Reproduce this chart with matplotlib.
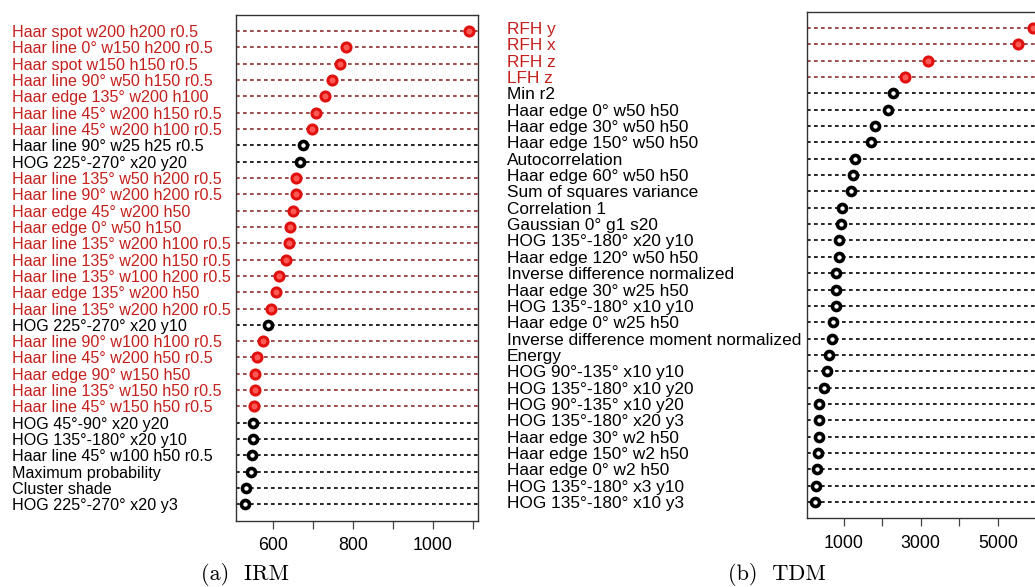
import matplotlib
matplotlib.use("Agg")
import matplotlib.pyplot as plt
from matplotlib.transforms import blended_transform_factory

# ---------------- data (top to bottom) ----------------
irm_labels = [
    "Haar spot w200 h200 r0.5", "Haar line 0° w150 h200 r0.5", "Haar spot w150 h150 r0.5",
    "Haar line 90° w50 h150 r0.5", "Haar edge 135° w200 h100", "Haar line 45° w200 h150 r0.5",
    "Haar line 45° w200 h100 r0.5", "Haar line 90° w25 h25 r0.5", "HOG 225°-270° x20 y20",
    "Haar line 135° w50 h200 r0.5", "Haar line 90° w200 h200 r0.5", "Haar edge 45° w200 h50",
    "Haar edge 0° w50 h150", "Haar line 135° w200 h100 r0.5", "Haar line 135° w200 h150 r0.5",
    "Haar line 135° w100 h200 r0.5", "Haar edge 135° w200 h50", "Haar line 135° w200 h200 r0.5",
    "HOG 225°-270° x20 y10", "Haar line 90° w100 h100 r0.5", "Haar line 45° w200 h50 r0.5",
    "Haar edge 90° w150 h50", "Haar line 135° w150 h50 r0.5", "Haar line 45° w150 h50 r0.5",
    "HOG 45°-90° x20 y20", "HOG 135°-180° x20 y10", "Haar line 45° w100 h50 r0.5",
    "Maximum probability", "Cluster shade", "HOG 225°-270° x20 y3",
]
irm_values = [1091, 784, 769, 748, 731, 707, 697, 676, 668, 659, 658, 651, 644, 640, 633,
              614, 607, 596, 587, 576, 560, 555, 554, 552, 551, 550, 547, 545, 532, 530]
irm_highlight = [1, 1, 1, 1, 1, 1, 1, 0, 0, 1, 1, 1, 1, 1, 1,
                 1, 1, 1, 0, 1, 1, 1, 1, 1, 0, 0, 0, 0, 0, 0]

tdm_labels = [
    "RFH y", "RFH x", "RFH z", "LFH z", "Min r2", "Haar edge 0° w50 h50",
    "Haar edge 30° w50 h50", "Haar edge 150° w50 h50", "Autocorrelation",
    "Haar edge 60° w50 h50", "Sum of squares variance", "Correlation 1",
    "Gaussian 0° g1 s20", "HOG 135°-180° x20 y10", "Haar edge 120° w50 h50",
    "Inverse difference normalized", "Haar edge 30° w25 h50", "HOG 135°-180° x10 y10",
    "Haar edge 0° w25 h50", "Inverse difference moment normalized", "Energy",
    "HOG 90°-135° x10 y10", "HOG 135°-180° x10 y20", "HOG 90°-135° x10 y20",
    "HOG 135°-180° x20 y3", "Haar edge 30° w2 h50", "Haar edge 150° w2 h50",
    "Haar edge 0° w2 h50", "HOG 135°-180° x3 y10", "HOG 135°-180° x10 y3",
]
tdm_values = [5922, 5518, 3202, 2598, 2270, 2150, 1821, 1710, 1303, 1251, 1181, 948,
              932, 881, 870, 811, 803, 793, 733, 707, 622, 560, 492, 363, 360, 352,
              335, 309, 283, 265]
tdm_highlight = [1, 1, 1, 1] + [0] * 26

irm_ticks = [600, 700, 800, 900, 1000, 1100]
irm_ticklabels = ["600", "", "800", "", "1000", ""]
tdm_ticks = [1000, 2000, 3000, 4000, 5000, 6000]
tdm_ticklabels = ["1000", "", "3000", "", "5000", ""]

# ---------------- style ----------------
W, H = 1035, 587
LABEL_RED = "#C4201C"
LINE_RED = "#8E2E2E"
DOT_RED_EDGE = "#E0100E"
DOT_RED_FACE = "#FF5A55"
FONT = ["Liberation Sans", "DejaVu Sans"]

fig = plt.figure(figsize=(W / 100, H / 100), dpi=100)


def panel(rect, labels, values, highlight, ticks, ticklabels, label_x, caption, cap_x, fs):
    ax = fig.add_axes(rect)
    n = len(values)
    vmin, vmax = min(values), max(values)
    pad = 0.04 * (vmax - vmin)
    ax.set_xlim(vmin - pad, vmax + pad)
    ax.set_ylim(0, n + 1)
    trans = blended_transform_factory(fig.transFigure, ax.transData)
    for i, (lab, v, h) in enumerate(zip(labels, values, highlight)):
        y = n - i
        lc = LINE_RED if h else "black"
        ax.axhline(y, color=lc, lw=1.2, ls=(0, (2.2, 2.0)), zorder=1)
        if h:
            ax.plot([v], [y], "o", ms=6.5, mfc=DOT_RED_FACE, mec=DOT_RED_EDGE, mew=2.2, zorder=3)
        else:
            ax.plot([v], [y], "o", ms=5.8, mfc="white", mec="black", mew=2.6, zorder=3)
        ax.text(label_x / W, y, lab, transform=trans, ha="left", va="center_baseline",
                fontsize=fs, family=FONT, color=LABEL_RED if h else "black",
                clip_on=False)
    ax.set_yticks([])
    ax.set_xticks(ticks)
    ax.set_xticklabels(ticklabels, family=FONT, fontsize=12.8)
    ax.tick_params(axis="x", length=6, width=0.9, color="#444444", pad=6)
    for s in ax.spines.values():
        s.set_color("#333333")
        s.set_linewidth(1.0)
    fig.text(cap_x / W, 1 - 575 / H, caption, ha="center", va="center",
             family=["cmr10", "DejaVu Serif"], fontsize=16)
    return ax


panel([236 / W, 1 - 520.7 / H, (478 - 236) / W, (520.7 - 14.7) / H],
      irm_labels, irm_values, irm_highlight, irm_ticks, irm_ticklabels,
      12, "(a)  IRM", 245, 11.6)
panel([806.5 / W, 1 - 518.3 / H, (1042 - 806.5) / W, (518.3 - 11.7) / H],
      tdm_labels, tdm_values, tdm_highlight, tdm_ticks, tdm_ticklabels,
      507, "(b)  TDM", 777, 12.4)

fig.savefig("out.png", dpi=100)
